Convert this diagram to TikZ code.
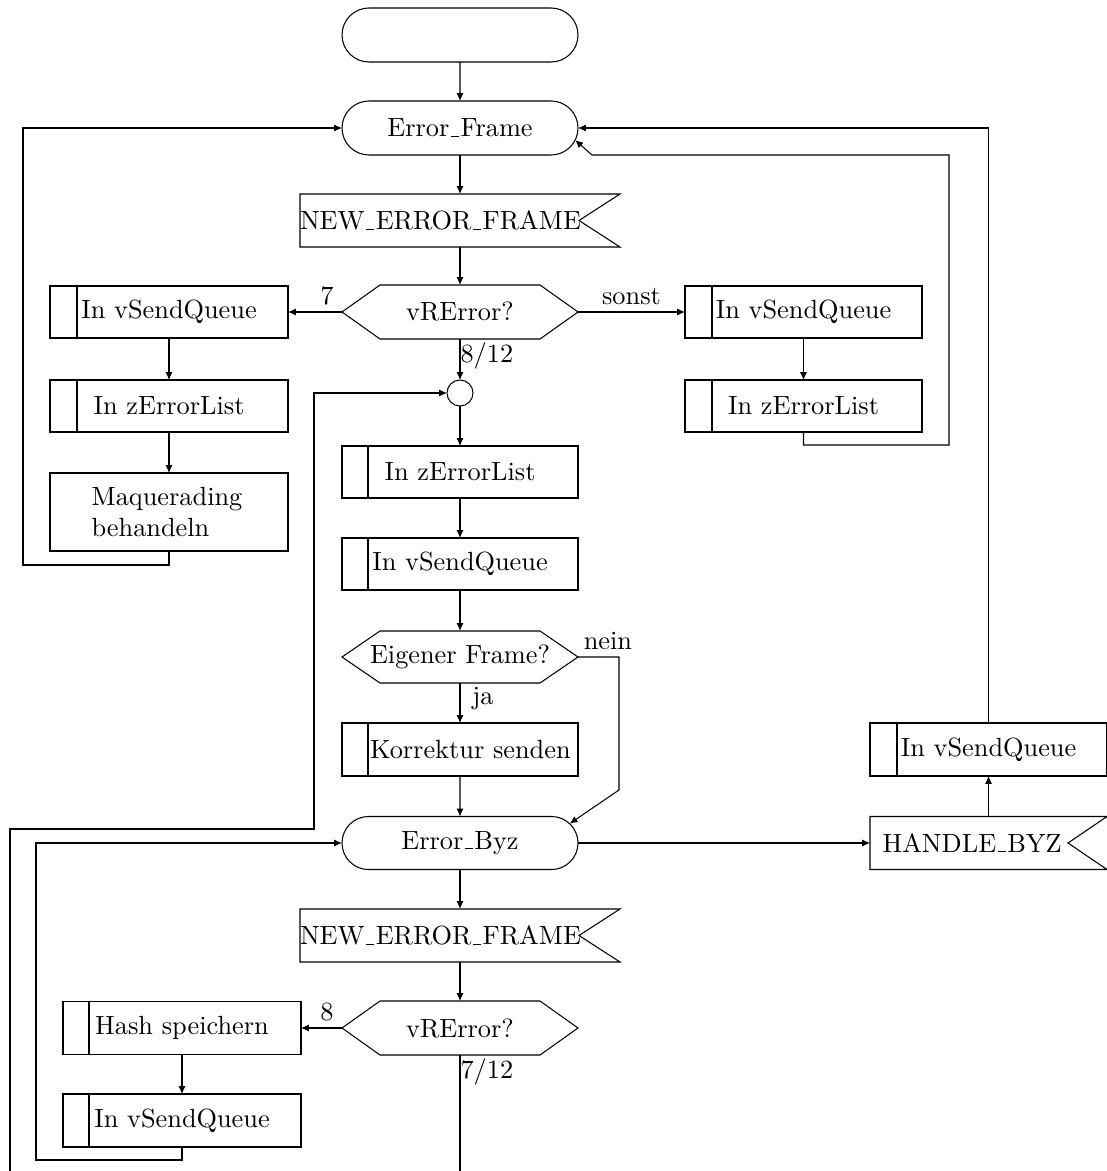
\documentclass[tikz,border=0pt]{standalone}
\usetikzlibrary{shapes.misc,arrows.meta}
% one drawing unit
\newdimen\pxu \pxu=0.38pt
% short underscore set on the baseline
\newcommand\us{\leavevmode\kern.06em\vbox{\hrule width.3em}\kern.06em}
\begin{document}
\begin{tikzpicture}[x=0.38pt,y=-0.38pt,
  base/.style={inner sep=0pt, outer sep=0pt, align=center},
  terminal/.style={base, draw, rounded rectangle, minimum width=236\pxu, minimum height=54\pxu},
  decision/.style={base, minimum width=236\pxu, minimum height=54\pxu},
  signal/.style={base, minimum height=53\pxu},
  subproc/.style={base, draw, minimum width=236\pxu, minimum height=53\pxu},
  procbox/.style={base, draw, minimum width=238\pxu, minimum height=78\pxu, align=left},
  joint/.style={base, draw, circle, minimum size=26\pxu},
  arr/.style={-{Latex[length=3pt,width=2.7pt]}},
  lbl/.style={inner sep=0pt}
]
\useasboundingbox (0,0) rectangle (1107,1171);

% ---- upper part: Error_Frame
\node[terminal] (start) at (460,35) {};
\node[terminal] (ef) at (460,128) {Error\us Frame};
\node[signal, minimum width=320\pxu] (nef1) at (460,220.5)
  {\makebox[0pt][l]{\hspace*{-160\pxu}NEW\us ERROR\us FRAME}};
\node[decision] (dec1) at (460,312) {vRError?};

\node[subproc, minimum width=238\pxu, minimum height=52\pxu] (lq1) at (169,312) {In vSendQueue};
\node[subproc, minimum width=238\pxu, minimum height=52\pxu] (lz1) at (169,406) {In zErrorList};
\node[procbox] (mq) at (169,512) {\hspace*{-4\pxu}Maquerading\\\hspace*{-4\pxu}behandeln};

\node[subproc, minimum width=237\pxu, minimum height=52\pxu] (rq1) at (803.5,312) {In vSendQueue};
\node[subproc, minimum width=237\pxu, minimum height=52\pxu] (rz1) at (803.5,406) {In zErrorList};

\node[joint] (join) at (460,393) {};
\node[subproc, minimum height=52\pxu] (mz) at (460,472) {In zErrorList};
\node[subproc, minimum height=52\pxu] (mq2) at (460,564) {In vSendQueue};
\node[decision, minimum height=52\pxu] (dec2) at (460,657) {Eigener Frame?};
\node[subproc] (kor) at (460,749.5)
  {\makebox[0pt][l]{\hspace*{-90\pxu}Korrektur senden}};

% ---- lower part: Error_Byz
\node[terminal, minimum height=53\pxu] (eb) at (460,843) {Error\us Byz};
\node[signal, minimum width=237\pxu] (hb) at (988.5,843)
  {\makebox[0pt][l]{\hspace*{-106\pxu}HANDLE\us BYZ}};
\node[subproc, minimum width=237\pxu] (rq2) at (988.5,749.5) {In vSendQueue};
\node[signal, minimum width=320\pxu] (nef2) at (460,935.5)
  {\makebox[0pt][l]{\hspace*{-160\pxu}NEW\us ERROR\us FRAME}};
\node[decision] (dec3) at (460,1028) {vRError?};
\node[subproc, minimum width=238\pxu] (hs) at (182,1028) {Hash speichern};
\node[subproc, minimum width=238\pxu] (bq) at (182,1120.5) {In vSendQueue};

% outlines of the decisions (hexagons)
\foreach \n in {dec1,dec2,dec3}
  \draw (\n.west) -- ([xshift=38\pxu]\n.north west) -- ([xshift=-38\pxu]\n.north east)
        -- (\n.east) -- ([xshift=-38\pxu]\n.south east) -- ([xshift=38\pxu]\n.south west) -- cycle;
% outlines of the received signals
\draw (nef1.north west) -- (nef1.north east) -- ([xshift=-41\pxu]nef1.east)
      -- (nef1.south east) -- (nef1.south west) -- cycle;
\draw (nef2.north west) -- (nef2.north east) -- ([xshift=-41\pxu]nef2.east)
      -- (nef2.south east) -- (nef2.south west) -- cycle;
\draw (hb.north west) -- (hb.north east) -- ([xshift=-39\pxu]hb.east)
      -- (hb.south east) -- (hb.south west) -- cycle;
% side bars of the predefined processes
\foreach \n/\d in {lq1/27,lz1/27,rq1/27,rz1/27,mz/26,mq2/26,kor/26,rq2/27,hs/26,bq/26}
  \draw ([xshift=\d\pxu]\n.north west) -- ([xshift=\d\pxu]\n.south west);

% ---- connectors, upper part
\draw[arr] (start) -- (ef);
\draw[arr] (ef.south) -- (ef.south |- nef1.north);
\draw[arr] (nef1.south) -- (dec1.north);
\draw[arr] (dec1.west) -- node[pos=0.28, anchor=south, inner sep=2.6pt] {7} (lq1.east);
\draw[arr] (dec1.east) -- node[pos=0.5, anchor=south, inner sep=2.6pt] {sonst} (rq1.west);
\draw[arr] (lq1) -- (lz1);
\draw[arr] (lz1) -- (mq);
\coordinate (lp1) at (23,565);
\draw[arr] (mq.south) |- (lp1) |- (ef.west);
\draw[arr] (rq1) -- (rz1);
\coordinate (rp1) at (949,445);
\coordinate (rp2) at (592,155);
\draw[arr] (rz1.south) |- (rp1) |- (rp2) -- (ef.-6);
\draw[arr] (rq2.north) |- (ef.east);

\draw[arr] (dec1.south) -- node[pos=0.585, anchor=base west, lbl] {8/12} (join.north);
\coordinate (bot2) at (10,1171);
\coordinate (jp) at (314,829);
\draw[arr] (bot2) |- (jp) |- (join.west);
\draw[arr] (join) -- (mz);
\draw[arr] (mz) -- (mq2);
\draw[arr] (mq2.south) -- (dec2.north);
\draw[arr] (dec2.south) -- node[pos=0.53, anchor=base west, lbl, xshift=4.5pt] {ja} (kor.north);
\draw[arr] (kor) -- (eb);
\coordinate (nn) at (619,790);
\draw[arr] (dec2.east) -| node[pos=0, anchor=base west, lbl, xshift=2pt, yshift=2.7pt] {nein} (nn) -- (eb.10);

% ---- connectors, lower part
\draw[arr] (eb.east) -- (hb.west);
\draw[arr] (hb.north) -- (rq2.south);
\draw[arr] (eb.south) -- (eb.south |- nef2.north);
\draw[arr] (nef2.south) -- (dec3.north);
\draw[arr] (dec3.west) -- node[pos=0.37, anchor=south, inner sep=2.6pt] {8} (hs.east);
\draw[arr] (hs) -- (bq);
\coordinate (lp2) at (36,1160);
\draw[arr] (bq.south) |- (lp2) |- (eb.west);
\coordinate (bot1) at (460,1171);
\draw (dec3.south) -- node[pos=0.2, anchor=base west, lbl] {7/12} (bot1);
\end{tikzpicture}
\end{document}
